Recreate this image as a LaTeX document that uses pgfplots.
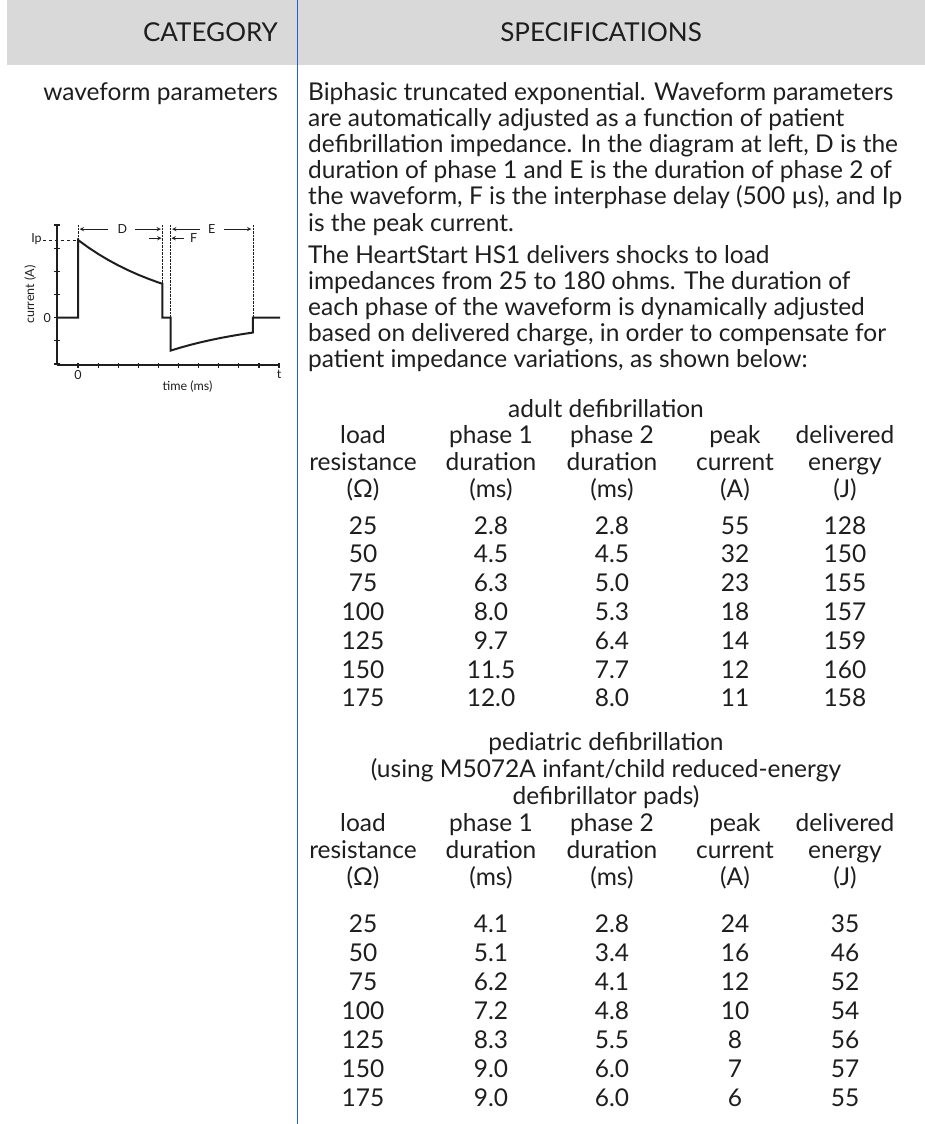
\documentclass[border=0pt]{standalone}
\usepackage{fontspec}
\setmainfont{Lato}
\usepackage{pgfplots}
\pgfplotsset{compat=1.18}
\definecolor{hdr}{RGB}{217,217,217}
\definecolor{rulec}{RGB}{40,90,220}
\definecolor{ink}{RGB}{30,30,30}

\newcommand{\bodyfont}{\fontsize{24.5}{26}\selectfont}
\newcommand{\headfont}{\fontsize{26}{28}\selectfont}
\newcommand{\smallfont}{\fontsize{12.5}{14}\selectfont}

\begin{document}
\begin{tikzpicture}
\path[use as bounding box] (0pt,0pt) rectangle (925pt,-1124pt);

\begin{scope}[x=1pt,y=-1pt,every node/.style={inner sep=0pt,font=\bodyfont,text=ink}]
% header band and column rule
\fill[hdr] (7,0) rectangle (925,65);
\draw[rulec,line width=1pt] (297,0) -- (297,1124);
\node[anchor=base east,font=\headfont] at (278,42) {CATEGORY};
\node[anchor=base,font=\headfont] at (601,42) {SPECIFICATIONS};
\node[anchor=base east] at (278,100) {waveform parameters};

% paragraphs
\foreach \y/\t in {100/{Biphasic truncated exponential. Waveform parameters},
  126.2/{are automatically adjusted as a function of patient},
  152.4/{defibrillation impedance. In the diagram at left, D is the},
  178.6/{duration of phase 1 and E is the duration of phase 2 of},
  204.8/{the waveform, F is the interphase delay (500 µs), and Ip},
  231/{is the peak current.},
  263/{The HeartStart HS1 delivers shocks to load},
  289.2/{impedances from 25 to 180 ohms. The duration of},
  315.4/{each phase of the waveform is dynamically adjusted},
  341.6/{based on delivered charge, in order to compensate for},
  367.8/{patient impedance variations, as shown below:}}
  \node[anchor=base west] at (308,\y) {\t};

% adult table
\node[anchor=base] at (606,417) {adult defibrillation};
\foreach \y/\a/\b/\c/\d/\e in {
  443/load/phase 1/phase 2/peak/delivered,
  470/resistance/duration/duration/current/energy,
  497/(Ω)/(ms)/(ms)/(A)/(J),
  534/25/2.8/2.8/55/128,
  562.8/50/4.5/4.5/32/150,
  591.6/75/6.3/5.0/23/155,
  620.4/100/8.0/5.3/18/157,
  649.2/125/9.7/6.4/14/159,
  678/150/11.5/7.7/12/160,
  706.8/175/12.0/8.0/11/158}{
  \node[anchor=base] at (363,\y) {\a};
  \node[anchor=base] at (491,\y) {\b};
  \node[anchor=base] at (612,\y) {\c};
  \node[anchor=base] at (735,\y) {\d};
  \node[anchor=base] at (845,\y) {\e};
}

% pediatric table
\node[anchor=base] at (606,750) {pediatric defibrillation};
\node[anchor=base] at (606,777) {(using M5072A infant/child reduced-energy};
\node[anchor=base] at (606,804) {defibrillator pads)};
\foreach \y/\a/\b/\c/\d/\e in {
  831/load/phase 1/phase 2/peak/delivered,
  858/resistance/duration/duration/current/energy,
  885/(Ω)/(ms)/(ms)/(A)/(J),
  932/25/4.1/2.8/24/35,
  961/50/5.1/3.4/16/46,
  990/75/6.2/4.1/12/52,
  1019/100/7.2/4.8/10/54,
  1048/125/8.3/5.5/8/56,
  1077/150/9.0/6.0/7/57,
  1106/175/9.0/6.0/6/55}{
  \node[anchor=base] at (363,\y) {\a};
  \node[anchor=base] at (491,\y) {\b};
  \node[anchor=base] at (612,\y) {\c};
  \node[anchor=base] at (735,\y) {\d};
  \node[anchor=base] at (845,\y) {\e};
}
\end{scope}

% waveform diagram
\begin{axis}[
    at={(57pt,-365pt)}, anchor=south west,
    scale only axis, width=223pt, height=141pt,
    xmin=-1.05, xmax=10.05, ymin=-2.04, ymax=4.04,
    axis lines*=left,
    axis line style={ink, line width=1.6pt},
    xtick={0,...,10}, xticklabels={0,,,,,,,,,,t},
    ytick={-2,...,4}, yticklabels={,,0,,,,},
    tick style={ink, line width=1.2pt},
    major tick length=5pt,
    tick align=center,
    ticklabel style={font=\smallfont, text=ink},
    xticklabel style={yshift=1pt},
    label style={font=\smallfont, text=ink},
    xlabel={time (ms)}, ylabel={current (A)},
    xlabel style={at={(axis description cs:0.585,-0.15)}, anchor=center},
    ylabel style={at={(axis description cs:-0.12,0.5)}, anchor=center},
    clip=false,
]
% current trace
\addplot[ink, line width=2pt] coordinates {
  (-1.05,0) (0,0) (0,3.35) (0.5,3.034) (1,2.749) (1.5,2.49) (2,2.255)
  (2.5,2.043) (3,1.85) (3.5,1.676) (4,1.518) (4.2,1.46) (4.2,0) (4.6,0)
  (4.6,-1.42) (5.1,-1.289) (5.6,-1.169) (6.1,-1.061) (6.6,-0.963)
  (7.1,-0.873) (7.6,-0.793) (8.1,-0.719) (8.7,-0.64) (8.7,0) (10.05,0)};

% guides and dimension marks
\draw[ink, densely dotted, thin] (axis cs:0,4.0) -- (axis cs:0,3.35);
\draw[ink, densely dotted, thin] (axis cs:4.2,4.0) -- (axis cs:4.2,0);
\draw[ink, densely dotted, thin] (axis cs:4.6,4.0) -- (axis cs:4.6,0);
\draw[ink, densely dotted, thin] (axis cs:8.7,4.0) -- (axis cs:8.7,0);
\draw[ink, dashed, thin] (axis cs:-1.75,3.35) -- (axis cs:0,3.35);
\node[anchor=east, inner sep=1pt, font=\smallfont, text=ink] at (axis cs:-1.75,3.38) {Ip};

\draw[ink, line width=0.9pt, -stealth] (axis cs:1.5,3.82) -- (axis cs:0.08,3.82);
\draw[ink, line width=0.9pt, -stealth] (axis cs:2.85,3.82) -- (axis cs:4.12,3.82);
\node[font=\smallfont, text=ink] at (axis cs:2.2,3.84) {D};
\draw[ink, line width=0.9pt, -stealth] (axis cs:6.05,3.82) -- (axis cs:4.68,3.82);
\draw[ink, line width=0.9pt, -stealth] (axis cs:7.25,3.82) -- (axis cs:8.62,3.82);
\node[font=\smallfont, text=ink] at (axis cs:6.65,3.84) {E};
\draw[ink, line width=0.9pt, -stealth] (axis cs:3.55,3.43) -- (axis cs:4.15,3.43);
\draw[ink, line width=0.9pt, -stealth] (axis cs:5.25,3.43) -- (axis cs:4.65,3.43);
\node[font=\smallfont, text=ink] at (axis cs:5.75,3.43) {F};
\end{axis}
\end{tikzpicture}
\end{document}
